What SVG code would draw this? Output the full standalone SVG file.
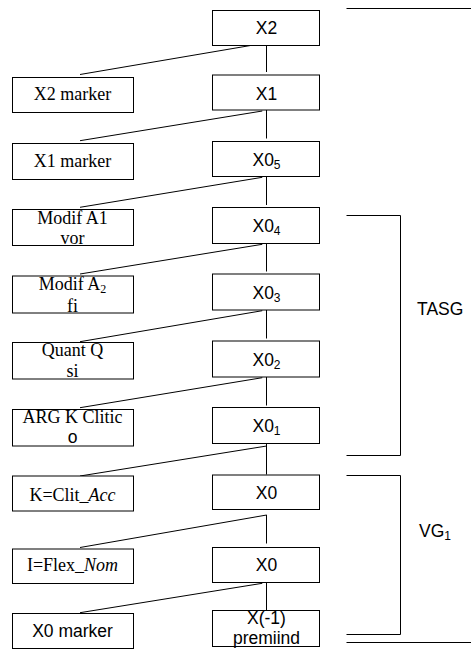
<svg xmlns="http://www.w3.org/2000/svg" width="471" height="649" viewBox="0 0 471 649">
<style>
.box{fill:#fff;stroke:#000;stroke-width:1}
.ln{fill:none;stroke:#000;stroke-width:1}
.sans{font-family:"Liberation Sans",Arial,sans-serif;font-size:17.5px;fill:#000}
.serif{font-family:"Liberation Serif","Times New Roman",serif;font-size:18px;fill:#000}
.sub{font-size:12px}
.it{font-style:italic}
</style>
<rect width="471" height="649" fill="#fff"/>
<g id="connectors">
<line class="ln" x1="251.7" y1="45.3" x2="80" y2="74.5"/>
<line class="ln" x1="262.3" y1="111" x2="80" y2="140.7"/>
<line class="ln" x1="262.3" y1="177.3" x2="80" y2="207.3"/>
<line class="ln" x1="262.3" y1="244.3" x2="80" y2="274"/>
<line class="ln" x1="262.3" y1="310.7" x2="80" y2="341.7"/>
<line class="ln" x1="262.3" y1="377.7" x2="80" y2="407.7"/>
<line class="ln" x1="266.7" y1="446" x2="80" y2="476"/>
<line class="ln" x1="266.7" y1="515" x2="80" y2="547.5"/>
<line class="ln" x1="262.3" y1="583.3" x2="80" y2="612.7"/>
<line class="ln" x1="266.5" y1="45.5" x2="266.5" y2="72"/>
<line class="ln" x1="266.5" y1="110" x2="266.5" y2="138.5"/>
<line class="ln" x1="266.5" y1="176.5" x2="266.5" y2="205"/>
<line class="ln" x1="266.5" y1="243.5" x2="266.5" y2="271.5"/>
<line class="ln" x1="266.5" y1="310" x2="266.5" y2="338.5"/>
<line class="ln" x1="266.5" y1="377" x2="266.5" y2="405.5"/>
<line class="ln" x1="266.5" y1="443.5" x2="266.5" y2="474.5"/>
<line class="ln" x1="266.5" y1="515" x2="266.5" y2="543.5"/>
<line class="ln" x1="266.5" y1="582.5" x2="266.5" y2="610"/>
<line class="ln" x1="346.5" y1="8.5" x2="471" y2="8.5"/>
<path class="ln" d="M346.5,215.5 H400.5 V455.5 H346.5"/>
<path class="ln" d="M346.5,475.5 H400.5 V634.5 H346.5"/>
<line class="ln" x1="346.5" y1="642.5" x2="471" y2="642.5"/>
</g>
<g id="labels">
<text class="sans" x="417" y="315">TASG</text>
<text class="sans" x="419" y="537">VG<tspan class="sub" dy="3">1</tspan></text>
</g>
<g id="n-x2"><rect class="box" x="212.5" y="10.5" width="107" height="35"/><text class="sans" x="266.5" y="34" text-anchor="middle">X2</text></g>
<g id="n-x1"><rect class="box" x="212.5" y="75" width="107" height="35"/><text class="sans" x="266.5" y="99.5" text-anchor="middle">X1</text></g>
<g id="n-x05"><rect class="box" x="212.5" y="141.5" width="107" height="35"/><text class="sans" x="266.5" y="166" text-anchor="middle">X0<tspan class="sub" dy="3">5</tspan></text></g>
<g id="n-x04"><rect class="box" x="212.5" y="207.5" width="107" height="36"/><text class="sans" x="266.5" y="232" text-anchor="middle">X0<tspan class="sub" dy="3">4</tspan></text></g>
<g id="n-x03"><rect class="box" x="212.5" y="274" width="107" height="36"/><text class="sans" x="266.5" y="298.5" text-anchor="middle">X0<tspan class="sub" dy="3">3</tspan></text></g>
<g id="n-x02"><rect class="box" x="212.5" y="341" width="107" height="36"/><text class="sans" x="266.5" y="365.5" text-anchor="middle">X0<tspan class="sub" dy="3">2</tspan></text></g>
<g id="n-x01"><rect class="box" x="212.5" y="407.5" width="107" height="36"/><text class="sans" x="266.5" y="432" text-anchor="middle">X0<tspan class="sub" dy="3">1</tspan></text></g>
<g id="n-x0a"><rect class="box" x="212.5" y="475" width="107" height="34.5"/><text class="sans" x="266.5" y="498.5" text-anchor="middle">X0</text></g>
<g id="n-x0b"><rect class="box" x="212.5" y="547.5" width="107" height="35"/><text class="sans" x="266.5" y="571" text-anchor="middle">X0</text></g>
<g id="n-xm1"><rect class="box" x="212.5" y="610.5" width="107" height="36"/><text class="sans" x="266.5" y="623.5" text-anchor="middle">X(-1)</text><text class="sans" x="266.5" y="643.5" text-anchor="middle">premiind</text></g>
<g id="n-x2m"><rect class="box" x="12.5" y="77.5" width="121" height="35"/><text class="serif" x="72.5" y="100" text-anchor="middle">X2 marker</text></g>
<g id="n-x1m"><rect class="box" x="12.5" y="143.5" width="121" height="36"/><text class="serif" x="72.5" y="166.5" text-anchor="middle">X1 marker</text></g>
<g id="n-a1"><rect class="box" x="12.5" y="209.5" width="121" height="36"/><text class="serif" x="72.5" y="224" text-anchor="middle">Modif A1</text><text class="serif" x="72.5" y="244" text-anchor="middle">vor</text></g>
<g id="n-a2"><rect class="box" x="12.5" y="276" width="121" height="37"/><text class="serif" x="72.5" y="290" text-anchor="middle">Modif A<tspan class="sub" dy="3">2</tspan></text><text class="serif" x="72.5" y="311.5" text-anchor="middle">fi</text></g>
<g id="n-q"><rect class="box" x="12.5" y="342.5" width="121" height="36.5"/><text class="serif" x="72.5" y="355.7" text-anchor="middle">Quant Q</text><text class="serif" x="72.5" y="376.7" text-anchor="middle">si</text></g>
<g id="n-arg"><rect class="box" x="12.5" y="409.5" width="121" height="36.5"/><text class="serif" x="72.5" y="423.3" text-anchor="middle">ARG K Clitic</text><text class="sans" x="72.5" y="443.3" text-anchor="middle">o</text></g>
<g id="n-k"><rect class="box" x="12.5" y="476" width="121" height="35"/><text class="serif" x="72.5" y="501" text-anchor="middle">K=Clit_<tspan class="it">Acc</tspan></text></g>
<g id="n-i"><rect class="box" x="12.5" y="549" width="121" height="34.5"/><text class="serif" x="72.5" y="571" text-anchor="middle">I=Flex_<tspan class="it">Nom</tspan></text></g>
<g id="n-x0m"><rect class="box" x="12.5" y="613.5" width="121" height="35"/><text class="sans" x="72.5" y="636.5" text-anchor="middle">X0 marker</text></g>
</svg>
